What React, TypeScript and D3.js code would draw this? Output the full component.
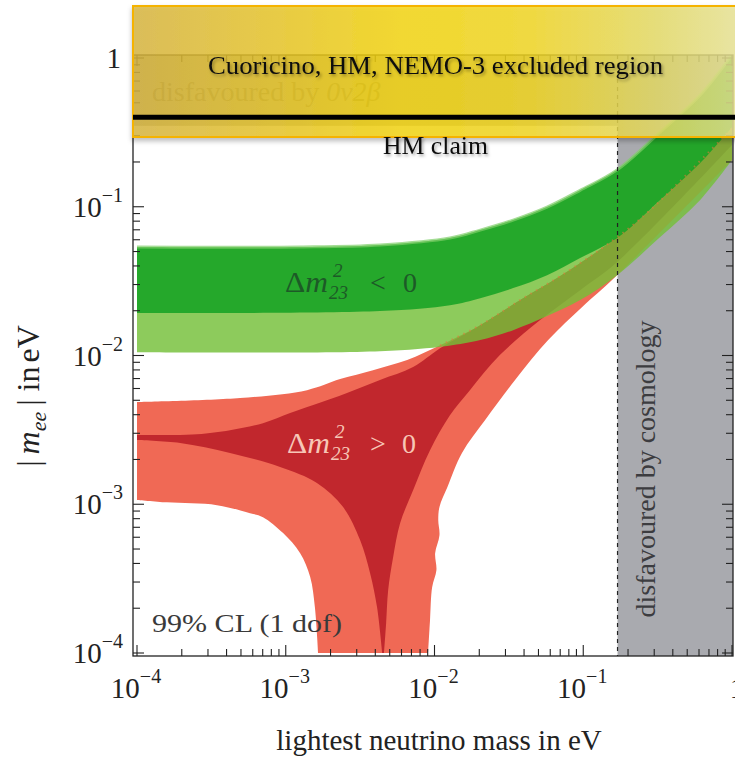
import React from 'react';
import * as d3 from 'd3';

type P = [number, number];

// ---- data (lightest neutrino mass in eV, |m_ee| in eV) ----
const xMajorTicks = [1e-4, 1e-3, 1e-2, 1e-1, 1];
const yMajorTicks = [1e-4, 1e-3, 1e-2, 1e-1, 1];
const tickExponents = ['−4', '−3', '−2', '−1', ''];

const greenUpper: P[] = [[1e-4, 5.36e-2], [1.25e-3, 5.36e-2], [4.3e-3, 5.53e-2], [1.27e-2, 6.16e-2], [2.03e-2, 6.97e-2], [3.38e-2, 8.14e-2], [5.71e-2, 9.95e-2], [9.53e-2, 0.129], [0.169, 0.177], [0.329, 0.318], [0.611, 0.564], [1, 1.05]];
const greenMid: P[] = [[1e-4, 1.93e-2], [4.3e-3, 1.99e-2], [1.27e-2, 2.18e-2], [2.03e-2, 2.43e-2], [3.38e-2, 2.84e-2], [5.71e-2, 3.47e-2], [9.53e-2, 4.52e-2], [0.169, 6.16e-2], [0.329, 0.111], [0.611, 0.197], [1, 0.343]];
const greenLower: P[] = [[1e-4, 1.05e-2], [4.3e-3, 1.07e-2], [1.22e-2, 1.16e-2], [2.03e-2, 1.27e-2], [3.38e-2, 1.48e-2], [5.71e-2, 1.84e-2], [9.53e-2, 2.36e-2], [0.169, 3.47e-2], [0.329, 6.25e-2], [0.611, 0.111], [1, 0.206]];

const redLightUpper: P[] = [[1e-4, 4.86e-3], [4.93e-4, 5.17e-3], [1.39e-3, 5.85e-3], [2.32e-3, 6.94e-3], [3.86e-3, 7.97e-3], [6.55e-3, 9.31e-3], [1.09e-2, 1.17e-2], [2.03e-2, 1.6e-2], [3.77e-2, 2.36e-2], [7.0e-2, 3.42e-2], [0.159, 5.97e-2], [0.282, 9.5e-2], [1, 0.338]];
const redLightRight: P[] = [[1, 0.206], [0.164, 3.37e-2], [9.84e-2, 2.12e-2], [5.81e-2, 1.27e-2], [3.48e-2, 6.84e-3], [2.19e-2, 3.68e-3], [1.53e-2, 2.21e-3], [1.22e-2, 1.3e-3], [1.08e-2, 9.6e-4], [1.06e-2, 7.82e-4], [1.08e-2, 6.2e-4], [1.01e-2, 4.69e-4], [1.03e-2, 3.6e-4], [9.64e-3, 2.77e-4], [9.33e-3, 1.66e-4], [9.06e-3, 1e-4]];
const redLightLower: P[] = [[1.65e-3, 1e-4], [1.57e-3, 2.03e-4], [1.46e-3, 3.24e-4], [1.25e-3, 4.69e-4], [9.6e-4, 6.4e-4], [7.03e-4, 8.19e-4], [5.75e-4, 8.71e-4], [3.45e-4, 9.86e-4], [1.59e-4, 1.03e-3], [1e-4, 1.07e-3]];

const redDarkUpper: P[] = [[1e-4, 2.92e-3], [2.53e-4, 2.96e-3], [4.22e-4, 3.15e-3], [7.03e-4, 3.51e-3], [1.07e-3, 4.1e-3], [1.53e-3, 4.64e-3], [2.58e-3, 5.59e-3], [4.3e-3, 6.84e-3], [7.18e-3, 8.36e-3], [1.09e-2, 1.12e-2], [2.03e-2, 1.6e-2], [3.77e-2, 2.36e-2], [7.0e-2, 3.42e-2], [0.159, 5.97e-2], [0.282, 9.5e-2], [1, 0.338]];
const redDarkRight: P[] = [[1, 0.26], [0.169, 4.25e-2], [9.53e-2, 2.75e-2], [5.13e-2, 1.73e-2], [2.76e-2, 1.01e-2], [1.73e-2, 5.85e-3], [1.27e-2, 3.97e-3], [9.33e-3, 2.31e-3], [7.18e-3, 1.24e-3], [5.87e-3, 7.46e-4], [5.27e-3, 4.41e-4], [4.88e-3, 2.64e-4], [4.73e-3, 1.59e-4], [4.58e-3, 1e-4]];
const redDarkLower: P[] = [[4.45e-3, 1e-4], [4.11e-3, 2.03e-4], [3.69e-3, 3.44e-4], [3.16e-3, 5.74e-4], [2.43e-3, 9.57e-4], [1.62e-3, 1.39e-3], [9.16e-4, 1.78e-3], [4.22e-4, 2.21e-3], [1.95e-4, 2.58e-3], [1e-4, 2.7e-3]];

const cosmologyLimit = 0.17;
const betaLimit = 0.35;
const hmClaim = 0.4;

// ---- layout ----
const W = 735, H = 763;
const F = { left: 133, right: 733, top: 55, bottom: 656 };
const x = d3.scaleLog().domain([1e-4, 1]).range([137, 732]);
const y = d3.scaleLog().domain([1e-4, 1]).range([653, 58]);

const line = d3.line<P>().x(d => x(d[0])).y(d => y(d[1])).curve(d3.curveCatmullRom.alpha(0.5));
const poly = (...segs: P[][]) =>
  segs.map((s, i) => { const p = line(s) as string; return i === 0 ? p : 'L' + p.slice(1); }).join('') + 'Z';

const minorTicks: number[] = [];
for (let k = -4; k < 0; k++) for (let j = 2; j <= 9; j++) minorTicks.push(j * Math.pow(10, k));

const SERIF = '"Liberation Serif", "Times New Roman", serif';

export default function App() {
  const xc = x(cosmologyLimit);
  return (
    <svg width={W} height={H} style={{ position: 'absolute', left: 0, top: 0, background: '#fff' }} fontFamily={SERIF}>
      <defs>
        <clipPath id="plot"><rect x={F.left} y={F.top} width={F.right - F.left} height={F.bottom - F.top} /></clipPath>
        <linearGradient id="yel" x1="0" x2="1" y1="0" y2="0">
          <stop offset="0" stopColor="#d9b63e" />
          <stop offset="0.22" stopColor="#e9c626" />
          <stop offset="0.42" stopColor="#f6d60a" />
          <stop offset="0.62" stopColor="#f3d720" />
          <stop offset="0.82" stopColor="#e6dc66" />
          <stop offset="1" stopColor="#ece9aa" />
        </linearGradient>
        <filter id="sh" x="-10%" y="-30%" width="120%" height="170%">
          <feDropShadow dx="1.5" dy="2" stdDeviation="1.6" floodColor="#000" floodOpacity="0.35" />
        </filter>
        <filter id="bsh" x="-5%" y="-10%" width="110%" height="130%">
          <feDropShadow dx="0" dy="3" stdDeviation="2.5" floodColor="#000" floodOpacity="0.3" />
        </filter>
      </defs>

      <g clipPath="url(#plot)">
        <rect x={F.left} y={F.top} width={F.right - F.left} height={y(betaLimit) - F.top} fill="#b4b3ad" />
        <rect x={xc} y={F.top} width={F.right - xc} height={F.bottom - F.top} fill="#a9aaaf" />
        <path d={poly(redLightUpper, redLightRight, redLightLower)} fill="#f06955" />
        <path d={poly(redDarkUpper, redDarkRight, redDarkLower)} fill="#c1272d" />
        <path d={poly(greenUpper, greenLower.slice().reverse())} fill="#74c038" fillOpacity={0.82} />
        <path d={poly(greenUpper, greenMid.slice().reverse())} fill="#0fa021" fillOpacity={0.82} />
        <path d={line(greenUpper) as string} fill="none" stroke="#7fcf6a" strokeWidth={3} strokeOpacity={0.7} />
        <path d={line(redLightUpper.slice(6)) as string} fill="none" stroke="#e07a3c" strokeWidth={2} strokeDasharray="1.5 5" strokeOpacity={0.6} />
        <line x1={xc} x2={xc} y1={F.top} y2={F.bottom} stroke="#222" strokeWidth={1.2} strokeDasharray="4 4" />
      </g>

      {/* in-plot labels */}
      <text x={152} y={101} fontSize={28} fill="#7a786c">disfavoured by <tspan fontStyle="italic">0ν2β</tspan></text>
      <text transform={`translate(655,469) rotate(-90)`} textAnchor="middle" fontSize={28} fill="#3c3c40">disfavoured by cosmology</text>
      <text x={152} y={632} fontSize={26} fill="#3a3a3a" textLength={190} lengthAdjust="spacingAndGlyphs">99% CL (1 dof)</text>

      <g fill="#1d5a27">
        <text x={285} y={292} fontSize={29} textLength={43} lengthAdjust="spacingAndGlyphs">Δ<tspan fontStyle="italic">m</tspan></text>
        <text x={333} y={277} fontSize={19} fontStyle="italic">2</text>
        <text x={329} y={299} fontSize={19} fontStyle="italic">23</text>
        <text x={370} y={292} fontSize={28}>&lt;</text>
        <text x={403} y={292} fontSize={28}>0</text>
      </g>
      <g fill="#f7c6b6">
        <text x={287} y={453} fontSize={29} textLength={43} lengthAdjust="spacingAndGlyphs">Δ<tspan fontStyle="italic">m</tspan></text>
        <text x={335} y={438} fontSize={19} fontStyle="italic">2</text>
        <text x={331} y={460} fontSize={19} fontStyle="italic">23</text>
        <text x={370} y={453} fontSize={28}>&gt;</text>
        <text x={402} y={453} fontSize={28}>0</text>
      </g>

      {/* frame and ticks */}
      <rect x={F.left} y={F.top} width={F.right - F.left} height={F.bottom - F.top} fill="none" stroke="#222" strokeWidth={1.3} />
      <g stroke="#222" strokeWidth={1.1}>
        {xMajorTicks.map(v => (
          <g key={'xM' + v}>
            <line x1={x(v)} x2={x(v)} y1={F.bottom} y2={F.bottom - 11} />
            <line x1={x(v)} x2={x(v)} y1={F.top} y2={F.top + 11} />
          </g>
        ))}
        {minorTicks.map(v => (
          <g key={'xm' + v}>
            <line x1={x(v)} x2={x(v)} y1={F.bottom} y2={F.bottom - 7} />
            <line x1={x(v)} x2={x(v)} y1={F.top} y2={F.top + 7} />
          </g>
        ))}
        {yMajorTicks.map(v => (
          <g key={'yM' + v}>
            <line x1={F.left} x2={F.left + 11} y1={y(v)} y2={y(v)} />
            <line x1={F.right} x2={F.right - 11} y1={y(v)} y2={y(v)} />
          </g>
        ))}
        {minorTicks.map(v => (
          <g key={'ym' + v}>
            <line x1={F.left} x2={F.left + 7} y1={y(v)} y2={y(v)} />
            <line x1={F.right} x2={F.right - 7} y1={y(v)} y2={y(v)} />
          </g>
        ))}
      </g>

      {/* tick labels */}
      <g fill="#222" fontSize={29}>
        {xMajorTicks.map((v, i) => (
          tickExponents[i] ? (
            <text key={'xl' + v} x={x(v) - 1} y={698} textAnchor="middle">10<tspan fontSize={20} dy={-15}>{tickExponents[i]}</tspan></text>
          ) : (
            <text key={'xl' + v} x={x(v) + 5} y={698} textAnchor="middle">1</text>
          )
        ))}
        {yMajorTicks.map((v, i) => (
          tickExponents[i] ? (
            <text key={'yl' + v} x={123} y={y(v) + 10} textAnchor="end">10<tspan fontSize={20} dy={-15}>{tickExponents[i]}</tspan></text>
          ) : (
            <text key={'yl' + v} x={121} y={y(v) + 10} textAnchor="end">1</text>
          )
        ))}
      </g>

      {/* axis titles */}
      <text x={439} y={750} textAnchor="middle" fontSize={29} fill="#222">lightest neutrino mass in eV</text>
      <text transform="translate(39,396) rotate(-90)" textAnchor="middle" fontSize={32} fill="#222">
        |<tspan dx={6} fontStyle="italic">m</tspan><tspan fontStyle="italic" fontSize={22} dy={7}>ee</tspan><tspan dy={-7} dx={6}>|</tspan><tspan dx={8}>in</tspan><tspan dx={4}>eV</tspan>
      </text>

      {/* overlay: excluded region box */}
      <rect x={133} y={6} width={640} height={131} fill="url(#yel)" fillOpacity={0.8} stroke="#f5b300" strokeWidth={2} filter="url(#bsh)" />
      <line x1={133} x2={735} y1={y(hmClaim)} y2={y(hmClaim)} stroke="#000" strokeWidth={5} />
      <text x={208} y={74} fontSize={26} fill="#111" textLength={455} lengthAdjust="spacingAndGlyphs" filter="url(#sh)">Cuoricino, HM, NEMO-3 excluded region</text>
      <text x={383} y={154} fontSize={25} fill="#111" textLength={105} lengthAdjust="spacingAndGlyphs" filter="url(#sh)">HM claim</text>
    </svg>
  );
}
